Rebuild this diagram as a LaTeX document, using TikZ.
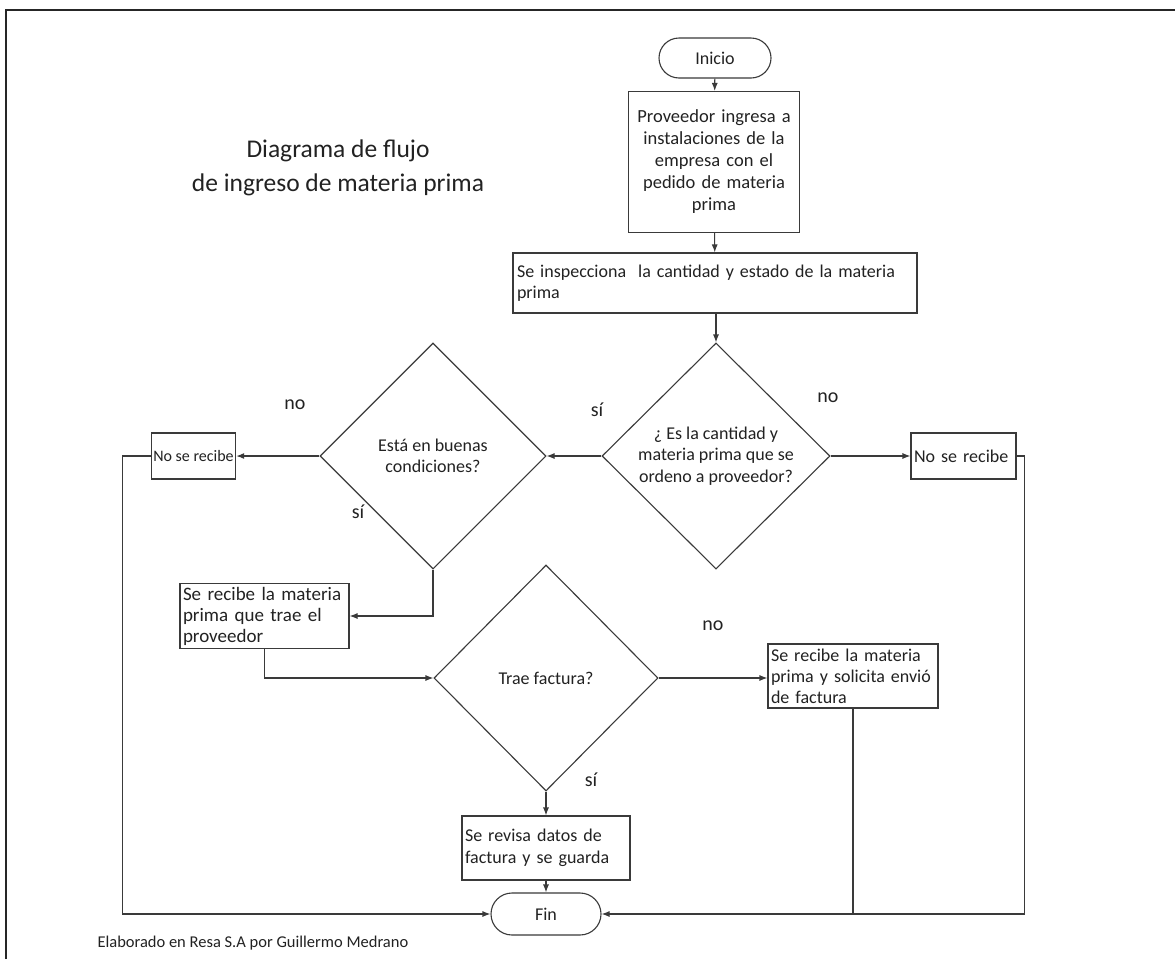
\documentclass[tikz,border=0pt]{standalone}
\usepackage{fontspec}
\setmainfont{Carlito}
\usetikzlibrary{shapes.geometric,arrows.meta}
\definecolor{ink}{HTML}{222222}
\definecolor{wire}{HTML}{3A3A3A}
\begin{document}
\begin{tikzpicture}[x=1pt,y=-1pt,
  every node/.style={text=ink},
  body/.style={font=\fontsize{18}{21.5}\selectfont},
  procbox/.style={draw=wire, line width=1.1pt, fill=white, body, inner sep=3pt},
  termbox/.style={draw=wire, line width=1.1pt, fill=white, body, rounded corners=20pt},
  decision/.style={draw=wire, line width=1.1pt, fill=white, body, shape=diamond,
                   aspect=1, inner sep=0pt, align=center},
  link/.style={draw=wire, line width=1.1pt},
  flow/.style={link, -{Latex[length=8pt,width=6pt]}},
  answer/.style={font=\fontsize{20}{22}\selectfont}
]
\useasboundingbox (0,0) rectangle (1175,959);
\fill[white] (0,0) rectangle (1175,959);

% page frame
\draw[black!85, line width=1.8pt] (6,959) -- (6,10) -- (1175,10);

% heading
\node[align=center, font=\fontsize{25.5}{34}\selectfont] (title) at (338,168)
  {Diagrama de flujo\\de ingreso de materia prima};

% main column
\node[termbox, minimum width=112pt, minimum height=40pt] (inicio) at (715,58) {Inicio};
\node[procbox, text width=165pt, align=center, minimum height=141pt, inner sep=3pt,
      font=\fontsize{18.5}{22}\selectfont] (ingreso) at (714,162)
  {Proveedor ingresa a\\instalaciones de la\\empresa con el\\pedido de materia\\prima};
\node[procbox, text width=396pt, align=left, minimum height=60pt, inner sep=4pt] (inspeccion) at (715,283)
  {Se inspecciona\ \ la cantidad y estado de la materia\\prima};
\node[decision, minimum width=228pt, minimum height=226pt] (cantidad) at (716,456)
  {¿ Es la cantidad y\\materia prima que se\\ordeno a proveedor?};
\node[decision, minimum width=226pt, minimum height=226pt] (estado) at (433,456)
  {Está en buenas\\condiciones?};
\node[procbox, font=\fontsize{16}{20}\selectfont, minimum width=83pt, minimum height=46pt,
      inner sep=2pt] (rechazoA) at (193.5,456) {No se recibe};
\node[procbox, minimum width=105pt, minimum height=46pt, align=left, text width=99pt]
      (rechazoB) at (963.5,456) {No se recibe};
\node[procbox, text width=163pt, align=left, minimum height=64pt, inner sep=3pt,
      font=\fontsize{19}{21}\selectfont] (recibe) at (264.5,616)
  {Se recibe la materia\\prima que trae el\\proveedor};
\node[decision, minimum width=224pt, minimum height=226pt] (factura) at (546,678) {Trae factura?};
\node[procbox, text width=164pt, align=left, minimum height=64pt,
      font=\fontsize{18}{21}\selectfont] (solicita) at (853,676)
  {\mbox{Se recibe la materia}\\\mbox{prima y solicita envió}\\\mbox{de factura}};
\node[procbox, text width=162pt, align=left, minimum height=64pt] (revisa) at (546,848)
  {Se revisa datos de\\factura y se guarda};
\node[termbox, minimum width=110pt, minimum height=42pt, rounded corners=21pt] (fin) at (546,914) {Fin};

% connectors
\draw[flow] (inicio) -- (ingreso);
\draw[flow] (ingreso) -- (inspeccion);
\draw[flow] (inspeccion.south -| cantidad.north) -- (cantidad.north);
\draw[flow] (cantidad.west) -- (estado.east);
\draw[flow] (cantidad.east) -- (rechazoB.west);
\draw[flow] (estado.west) -- (rechazoA.east);
\draw[flow] (estado.south) |- (recibe.east);
\draw[flow] (recibe.south) |- (factura.west);
\draw[flow] (factura.east) -- (factura.east -| solicita.west);
\draw[flow] (factura.south) -- (revisa.north);
\draw[flow] (revisa.south) -- (fin.north);
\draw[flow] (rechazoA.west) -- ++(-28,0) |- (fin.west);
\draw[flow] (rechazoB.east) -- ++(8,0) |- (fin.east);
\draw[link] (solicita.south) -- (solicita.south |- fin.east);

% branch answers
\node[answer] (noA) at (295,405) {no};
\node[answer] (siA) at (597,410) {sí};
\node[answer] (noB) at (828,398) {no};
\node[answer] (siB) at (358,512) {sí};
\node[answer] (noC) at (713,626) {no};
\node[answer] (siC) at (591,780) {sí};

% credit line
\node[anchor=west, font=\fontsize{16.5}{18}\selectfont] (credito) at (94,943)
  {Elaborado en Resa S.A por Guillermo Medrano};
\end{tikzpicture}
\end{document}
